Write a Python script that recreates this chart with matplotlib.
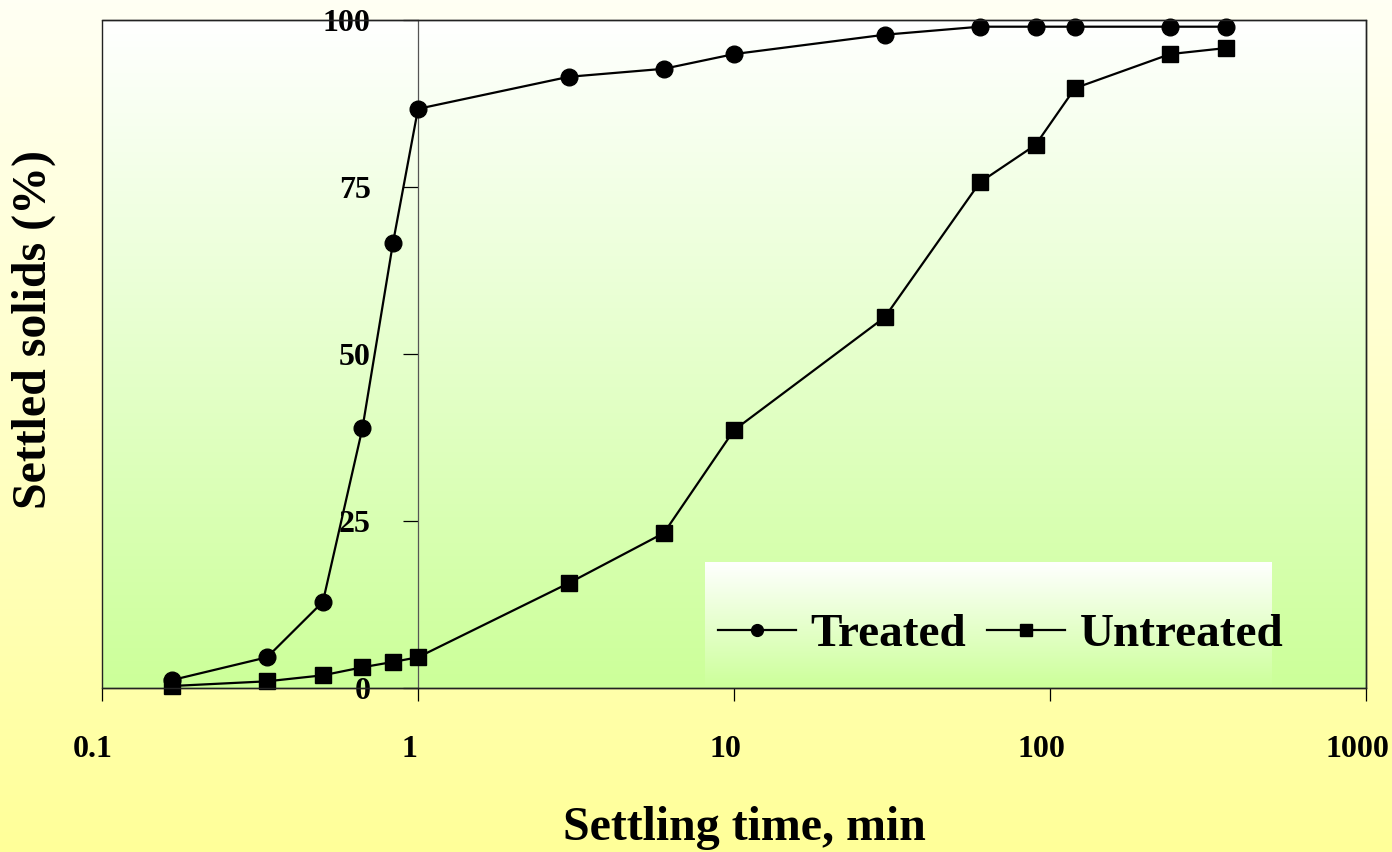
import numpy as np
import matplotlib
matplotlib.use("Agg")
import matplotlib.pyplot as plt
import matplotlib.transforms as mtransforms
from matplotlib.colors import LinearSegmentedColormap
from matplotlib.lines import Line2D

# settling times, min (10 s steps for the first minute)
times = [0.167, 0.333, 0.5, 0.667, 0.833, 1, 3, 6, 10, 30, 60, 90, 120, 240, 360]
treated = [1.2, 4.6, 12.9, 38.9, 66.6, 86.7, 91.5, 92.7, 94.9, 97.8, 99.0, 99.0, 99.0, 99.0, 99.0]
untreated = [0.3, 1.0, 1.9, 3.1, 3.9, 4.6, 15.7, 23.2, 38.6, 55.5, 75.7, 81.3, 89.8, 94.9, 95.8]

x_ticks = [0.1, 1, 10, 100, 1000]
x_tick_labels = ["0.1", "1", "10", "100", "1000"]
y_ticks = [0, 25, 50, 75, 100]

plt.rcParams["font.family"] = ["Liberation Serif", "DejaVu Serif"]
plt.rcParams["font.weight"] = "bold"

fig = plt.figure(figsize=(13.92, 8.52), dpi=100)

# figure background: pale top -> yellow bottom
bg = fig.add_axes([0, 0, 1, 1], zorder=-10)
bg.axis("off")
bg_cmap = LinearSegmentedColormap.from_list("bg", ["#FFFF99", "#FFFFF4"])
bg.imshow(np.linspace(0, 1, 256).reshape(-1, 1), cmap=bg_cmap, aspect="auto",
          extent=[0, 1, 0, 1], origin="lower")

ax = fig.add_axes([0.0733, 0.1925, 0.908, 0.784])
ax.set_xscale("log")

# plot area background: white top -> light green bottom
area_cmap = LinearSegmentedColormap.from_list("area", ["#CCFF99", "#FFFFFF"])
grad = np.linspace(0, 1, 256).reshape(-1, 1)
ax.imshow(grad, cmap=area_cmap, aspect="auto", extent=[0, 1, 0, 1],
          origin="lower", transform=ax.transAxes, zorder=0)
# legend background box
ax.imshow(grad, cmap=area_cmap, aspect="auto", extent=[0.477, 0.925, 0.0, 0.188],
          origin="lower", transform=ax.transAxes, zorder=1)

ax.plot(times, treated, color="black", lw=1.6, marker="o", ms=12, zorder=5,
        clip_on=False)
ax.plot(times, untreated, color="black", lw=1.6, marker="s", ms=11, zorder=5,
        clip_on=False)
ax.set_xlim(0.1, 1000)
ax.set_ylim(0, 100)

# frame around the plot area
for s in ("top", "right", "bottom"):
    ax.spines[s].set_color("#222222")
    ax.spines[s].set_linewidth(1.0)
ax.add_patch(plt.Rectangle((0, 0), 1, 1, transform=ax.transAxes, fill=False,
                           edgecolor="#222222", lw=1.0, zorder=6, clip_on=False))
# value axis crosses at x = 1
ax.spines["left"].set_position(("data", 1))
ax.spines["left"].set_color("#555555")
ax.spines["left"].set_linewidth(0.9)
ax.spines["left"].set_zorder(2)

ax.set_xticks(x_ticks)
ax.set_xticklabels(x_tick_labels)
ax.xaxis.set_minor_locator(matplotlib.ticker.NullLocator())
ax.set_yticks(y_ticks)
ax.tick_params(axis="x", direction="out", length=9, width=0.9, pad=25,
               labelsize=23, colors="black")
ax.tick_params(axis="y", direction="out", length=11, width=0.9, pad=23,
               labelsize=23, colors="black")
shift = mtransforms.ScaledTranslation(-9 / 100, 0, fig.dpi_scale_trans)
for lab in ax.get_xticklabels():
    lab.set_fontweight("bold")
    lab.set_transform(lab.get_transform() + shift)
for lab in ax.get_yticklabels():
    lab.set_fontweight("bold")

fig.text(0.535, 0.028, "Settling time, min", ha="center", va="center",
         fontsize=34.5, fontweight="bold")
fig.text(0.024, 0.613, "Settled solids (%)", ha="center", va="center",
         rotation=90, fontsize=34.5, fontweight="bold")

handles = [
    Line2D([], [], color="black", lw=1.6, marker="o", ms=8.5),
    Line2D([], [], color="black", lw=1.6, marker="s", ms=8.5),
]
leg = ax.legend(handles, ["Treated", "Untreated"], loc="center",
                bbox_to_anchor=(0.711, 0.08), ncol=2, frameon=False,
                prop={"size": 34, "weight": "bold"}, handlelength=1.65,
                handletextpad=0.3, columnspacing=0.45)
leg.set_zorder(7)

fig.savefig("out.png", dpi=100)
